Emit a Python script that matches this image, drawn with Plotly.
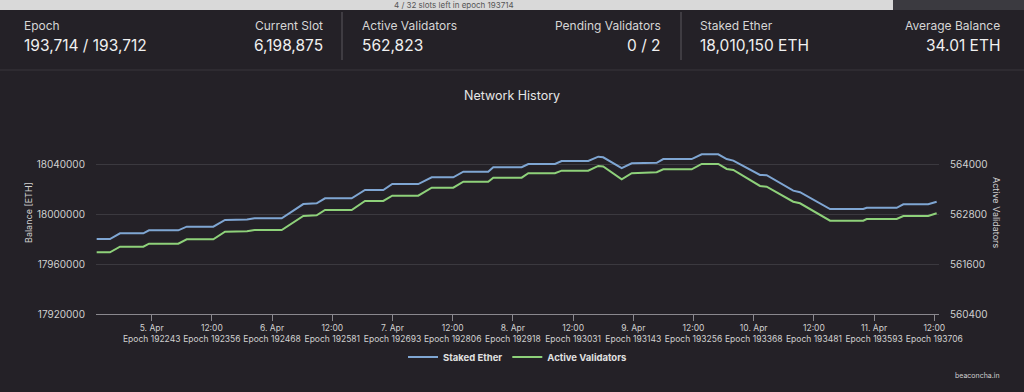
import plotly.graph_objects as go

# ---------------- data ----------------
times = [
    "2023-04-04 13:02", "2023-04-04 15:41", "2023-04-04 17:41", "2023-04-04 22:20",
    "2023-04-04 23:28", "2023-04-05 05:18", "2023-04-05 06:59", "2023-04-05 12:17",
    "2023-04-05 14:37", "2023-04-05 19:00", "2023-04-05 20:30", "2023-04-06 01:55",
    "2023-04-06 06:13", "2023-04-06 08:53", "2023-04-06 10:33", "2023-04-06 15:52",
    "2023-04-06 18:31", "2023-04-06 22:10", "2023-04-06 23:57", "2023-04-07 05:08",
    "2023-04-07 07:49", "2023-04-07 12:07", "2023-04-07 14:07", "2023-04-07 19:05",
    "2023-04-07 20:05", "2023-04-08 01:45", "2023-04-08 03:04", "2023-04-08 08:23",
    "2023-04-08 09:43", "2023-04-08 15:01", "2023-04-08 17:01", "2023-04-08 18:00",
    "2023-04-08 21:41", "2023-04-08 23:41", "2023-04-09 04:40", "2023-04-09 05:58",
    "2023-04-09 11:38", "2023-04-09 13:38", "2023-04-09 16:56", "2023-04-09 18:37",
    "2023-04-09 19:56", "2023-04-10 01:15", "2023-04-10 02:35", "2023-04-10 07:53",
    "2023-04-10 09:14", "2023-04-10 15:13", "2023-04-10 21:50", "2023-04-10 22:31",
    "2023-04-11 04:30", "2023-04-11 05:49", "2023-04-11 10:47", "2023-04-11 12:28",
]
staked_ether = [
    17980300, 17980300, 17984900, 17984900,
    17987300, 17987300, 17990200, 17990200,
    17995600, 17995900, 17996900, 17996900,
    18008400, 18009000, 18013000, 18013000,
    18019700, 18019700, 18024500, 18024500,
    18029900, 18029900, 18034400, 18034400,
    18038000, 18038000, 18040600, 18040600,
    18043000, 18043000, 18046500, 18046000,
    18037200, 18041200, 18041600, 18044600,
    18044600, 18048400, 18048400, 18044600,
    18043300, 18031800, 18031600, 18019200,
    18017900, 18004400, 18004400, 18005400,
    18005400, 18008200, 18008200, 18010300,
]
active_validators = [
    561887, 561887, 562022, 562022,
    562095, 562095, 562201, 562201,
    562385, 562395, 562426, 562426,
    562764, 562780, 562909, 562909,
    563126, 563126, 563254, 563254,
    563447, 563447, 563592, 563592,
    563689, 563689, 563795, 563795,
    563858, 563858, 563971, 563960,
    563650, 563795, 563819, 563891,
    563891, 564020, 564020, 563899,
    563875, 563488, 563471, 563109,
    563070, 562650, 562650, 562691,
    562691, 562764, 562764, 562829,
]

tick_dates = [
    "2023-04-05 00:00", "2023-04-05 12:00", "2023-04-06 00:00", "2023-04-06 12:00",
    "2023-04-07 00:00", "2023-04-07 12:00", "2023-04-08 00:00", "2023-04-08 12:00",
    "2023-04-09 00:00", "2023-04-09 12:00", "2023-04-10 00:00", "2023-04-10 12:00",
    "2023-04-11 00:00", "2023-04-11 12:00",
]
tick_day_labels = ["5. Apr", "12:00", "6. Apr", "12:00", "7. Apr", "12:00", "8. Apr",
                   "12:00", "9. Apr", "12:00", "10. Apr", "12:00", "11. Apr", "12:00"]
tick_epochs = [192243, 192356, 192468, 192581, 192693, 192806, 192918,
               193031, 193143, 193256, 193368, 193481, 193593, 193706]

left_ticks = [17920000, 17960000, 18000000, 18040000, 18080000]
left_tick_text = ["17920000", "17960000", "18000000", "18040000", ""]
right_ticks = [560400, 561600, 562800, 564000]
right_tick_text = ["560400", "561600", "562800", "564000"]

header_stats = [
    ("Epoch", "193,714 / 193,712", "left", 22),
    ("Current Slot", "6,198,875", "right", 325),
    ("Active Validators", "562,823", "left", 360),
    ("Pending Validators", "0 / 2", "right", 663),
    ("Staked Ether", "18,010,150 ETH", "left", 698),
    ("Average Balance", "34.01 ETH", "right", 1002),
]

# ---------------- layout helpers ----------------
W, H = 1024, 392
PL, PR, PT, PB = 96, 939, 115, 314


def px(x):
    return (x - PL) / (PR - PL)


def py(y):
    return (PB - y) / (PB - PT)


BG = "#242127"
BLUE = "#7fa6d3"
GREEN = "#8ed17a"
FONT = "Inter, Roboto, sans-serif"

fig = go.Figure()
fig.add_trace(go.Scatter(x=times, y=staked_ether, name="Staked Ether", mode="lines",
                         line=dict(color=BLUE, width=2), yaxis="y"))
fig.add_trace(go.Scatter(x=times, y=active_validators, name="Active Validators", mode="lines",
                         line=dict(color=GREEN, width=2), yaxis="y2"))

shapes = []
annotations = []

# progress bar
shapes.append(dict(type="rect", xref="paper", yref="paper", x0=px(0), x1=px(893),
                   y0=py(10), y1=py(0), fillcolor="#d9d9d9", line=dict(width=0), layer="below"))
shapes.append(dict(type="rect", xref="paper", yref="paper", x0=px(893), x1=px(1024),
                   y0=py(10), y1=py(0), fillcolor="#3b3a40", line=dict(width=0), layer="below"))
annotations.append(dict(xref="paper", yref="paper", x=px(454), y=py(5), text="4 / 32 slots left in epoch 193714",
                        showarrow=False, font=dict(size=8, color="#555", family=FONT),
                        xanchor="center", yanchor="middle"))

# dividers
for dx in (342, 681):
    shapes.append(dict(type="line", xref="paper", yref="paper", x0=px(dx), x1=px(dx),
                       y0=py(12), y1=py(60), line=dict(color="#5a585e", width=1)))
shapes.append(dict(type="line", xref="paper", yref="paper", x0=px(0), x1=px(1024),
                   y0=py(70), y1=py(70), line=dict(color="#38363c", width=1)))

for label, value, align, xpos in header_stats:
    annotations.append(dict(xref="paper", yref="paper", x=px(xpos), y=py(25), text=label,
                            showarrow=False, font=dict(size=12, color="#d6d6d6", family=FONT),
                            xanchor=align, yanchor="middle"))
    annotations.append(dict(xref="paper", yref="paper", x=px(xpos), y=py(45), text=value,
                            showarrow=False, font=dict(size=15.5, color="#f0f0f0", family=FONT),
                            xanchor=align, yanchor="middle"))

# chart title
annotations.append(dict(xref="paper", yref="paper", x=px(512), y=py(95), text="Network History",
                        showarrow=False, font=dict(size=12.5, color="#e6e6e6", family=FONT),
                        xanchor="center", yanchor="middle"))
# axis titles
annotations.append(dict(xref="paper", yref="paper", x=px(28), y=py(213), text="Balance [ETH]",
                        showarrow=False, textangle=-90, font=dict(size=9, color="#d0d0d0", family=FONT),
                        xanchor="center", yanchor="middle"))
annotations.append(dict(xref="paper", yref="paper", x=px(997), y=py(213), text="Active Validators",
                        showarrow=False, textangle=90, font=dict(size=9, color="#d0d0d0", family=FONT),
                        xanchor="center", yanchor="middle"))
# credit
annotations.append(dict(xref="paper", yref="paper", x=px(1002), y=py(375), text="beaconcha.in",
                        showarrow=False, font=dict(size=7, color="#cfcfcf", family=FONT),
                        xanchor="right", yanchor="middle"))

ticktext = [f"{d}<br>Epoch {e}" for d, e in zip(tick_day_labels, tick_epochs)]

fig.update_layout(
    width=W, height=H,
    margin=dict(l=PL, r=W - PR, t=PT, b=H - PB, pad=0),
    paper_bgcolor=BG, plot_bgcolor=BG,
    font=dict(family=FONT, color="#d0d0d0"),
    showlegend=True,
    hovermode=False,
    legend=dict(orientation="h", x=0.5, xanchor="center", y=py(357), yanchor="middle",
                font=dict(size=9.5, color="#e0e0e0", family=FONT, weight="bold"),
                bgcolor="rgba(0,0,0,0)", itemwidth=30, tracegroupgap=0),
    xaxis=dict(
        type="date",
        range=["2023-04-04 12:54", "2023-04-11 12:56"],
        tickvals=tick_dates, ticktext=ticktext,
        tickfont=dict(size=8.5, color="#d0d0d0"),
        showgrid=False, zeroline=False,
        showline=True, linecolor="#8a888e", linewidth=1,
        ticks="outside", ticklen=6, tickcolor="#8a888e",
    ),
    yaxis=dict(
        range=[17920000, 18080000],
        tickvals=left_ticks, ticktext=left_tick_text,
        tickfont=dict(size=10, color="#d0d0d0"),
        showgrid=True, gridcolor="#3b393f", gridwidth=1, zeroline=False,
        ticklabelstandoff=10,
    ),
    yaxis2=dict(
        range=[560400, 565200],
        overlaying="y", side="right",
        tickvals=right_ticks, ticktext=right_tick_text,
        tickfont=dict(size=10, color="#d0d0d0"),
        showgrid=False, zeroline=False,
        ticklabelstandoff=10,
    ),
    shapes=shapes,
    annotations=annotations,
)

fig.write_html("out.html",
               config={"displayModeBar": False},
               post_script="document.body.style.margin='0';document.body.style.background='#242127';")
